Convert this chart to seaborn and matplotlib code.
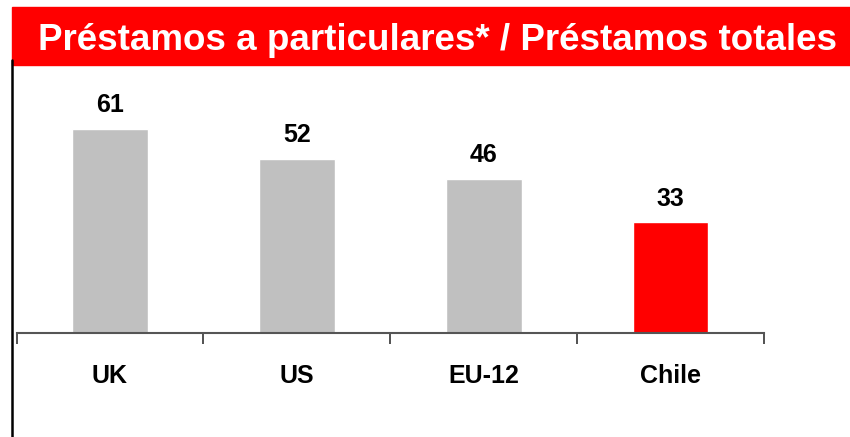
import pandas as pd
import seaborn as sns
import matplotlib.pyplot as plt
from matplotlib.patches import Rectangle
from matplotlib.lines import Line2D

paises = ["UK", "US", "EU-12", "Chile"]
valores = [61, 52, 46, 33]
colores = ["#c0c0c0", "#c0c0c0", "#c0c0c0", "#ff0000"]
titulo = "Préstamos a particulares* / Préstamos totales"

sns.set_style("white")
plt.rcParams['font.family'] = ['Liberation Sans', 'DejaVu Sans']
plt.rcParams['text.color'] = 'black'
plt.rcParams['xtick.color'] = 'black'

df = pd.DataFrame({"pais": paises, "valor": valores})

fig = plt.figure(figsize=(8.5, 4.37), dpi=100)
ax = fig.add_axes([16.5 / 850, 104 / 437, 747.5 / 850, 268 / 437])

sns.barplot(data=df, x="pais", y="valor", hue="pais", palette=colores,
            width=0.405, legend=False, ax=ax, saturation=1)

ax.set_xlim(-0.5, 3.5)
ax.set_ylim(0, 80)

for i, v in enumerate(valores):
    ax.text(i, v + 7, str(v), ha="center", va="center", color="black",
            fontsize=18, fontweight="bold")

# ejes
sns.despine(ax=ax, left=True)
ax.spines["bottom"].set_color("#555555")
ax.spines["bottom"].set_linewidth(1.5)
ax.set_yticks([])
ax.set_xlabel("")
ax.set_ylabel("")
ax.set_xticks(range(len(paises)))
ax.set_xticklabels(paises, fontsize=18, fontweight="bold", color="black")
ax.tick_params(axis="x", which="major", bottom=False, length=0, pad=22)
ax.set_xticks([-0.5, 0.5, 1.5, 2.5, 3.5], minor=True)
ax.tick_params(axis="x", which="minor", bottom=True, length=8, width=1.2,
               color="#333333", direction="out")

# banda roja del título
fig.patches.append(Rectangle((12 / 850, (437 - 65) / 437), 1 - 12 / 850, 58 / 437,
                             transform=fig.transFigure, color="#ff0000", zorder=0))
fig.text(437 / 850, (437 - 40) / 437, titulo, ha="center", va="center",
         color="white", fontsize=26.5, fontweight="bold")

# línea vertical izquierda
fig.lines.append(Line2D([11.5 / 850, 11.5 / 850], [0, (437 - 60) / 437],
                        transform=fig.transFigure, color="black", linewidth=1.8))

fig.savefig("out.png", dpi=100)
